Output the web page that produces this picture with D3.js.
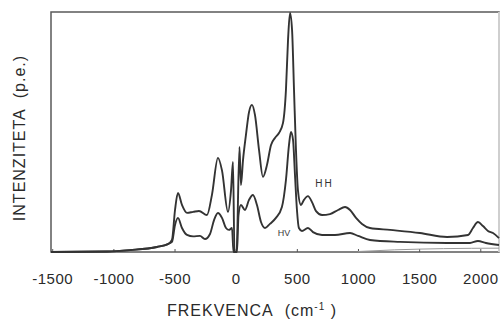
<!DOCTYPE html>
<html>
<head>
<meta charset="utf-8">
<script src="https://cdn.jsdelivr.net/npm/d3@7"></script>
<style>
  html, body { margin: 0; padding: 0; background: #fff; }
  svg { display: block; font-family: "Liberation Sans", Arial, sans-serif; }
</style>
</head>
<body>
<div id="chart"></div>
<script>
// Raman spectrum, HH and HV polarisation
const tickValues = [-1500, -1000, -500, 0, 500, 1000, 1500, 2000];

const hhShift = [-1510, -1052, -864, -644, -554, -521, -496, -472, -439, -398, -348, -300, -235, -194, -145, -112, -63, -38, -22, -10, 7,
  31, 43, 60, 84, 109, 133, 158, 191, 223, 256, 289, 321, 354, 387, 411, 428, 444, 461, 477, 493, 509, 534, 558, 591, 624, 657,
  706, 771, 837, 894, 935, 984, 1033, 1098, 1262, 1507, 1728, 1900, 1940, 1981, 2022, 2063, 2104, 2153];
const hhValue = [0, 0.2, 0.8, 2.1, 3.3, 5, 17.5, 24.6, 19.6, 16.3, 16.7, 17.1, 15.4, 23.8, 39.2, 34, 16.7, 25.8, 37.5, 0, 0,
  43.8, 27.9, 38.3, 48.8, 58.3, 61.3, 57, 42.5, 31.3, 36.3, 44.6, 47.5, 49.6, 53.8, 67.5, 88.3, 99.6, 92.5, 67.5, 42.5, 25.8, 19.6, 21.7, 23.3, 20.8, 17,
  15.4, 15.8, 17.5, 18.75, 17.5, 14.2, 11.7, 10, 9.2, 7.9, 6.25, 7.1, 10, 12.5, 10.8, 8.75, 7.9, 5.8];

const hvShift = [-1510, -1052, -864, -644, -554, -521, -496, -472, -439, -398, -348, -292, -251, -210, -177, -145, -112, -79, -55, -30, -18, 11,
  23, 43, 76, 109, 141, 174, 207, 240, 280, 329, 378, 411, 436, 452, 469, 485, 501, 517, 542, 591, 632,
  706, 812, 935, 1001, 1098, 1344, 1728, 1916, 1981, 2046, 2153];
const hvValue = [0, 0.2, 0.8, 2.1, 3.3, 4.2, 11.25, 14.2, 10, 7.1, 6.5, 6.7, 5.4, 7.5, 13.3, 16.25, 14.2, 10, 9.2, 10, 0, 0,
  15.4, 19.6, 17.5, 21.7, 23.75, 19.6, 12.5, 10, 11.7, 14.2, 18.75, 30, 44.6, 50, 46.7, 32, 17.5, 10, 8.75, 10, 8.3,
  7.1, 7.1, 7.9, 6.7, 5, 4.2, 3.75, 3.75, 4.6, 3.75, 2.9];

const baseShift = [1000, 1300, 1700, 2153];
const baseValue = [0.2, 0.9, 1.4, 1.6];

const width = 501, height = 323;
const svg = d3.select('#chart').append('svg')
  .attr('width', width)
  .attr('height', height);

const x = d3.scaleLinear().domain([-1510, 2153]).range([51, 499]);
const y = d3.scaleLinear().domain([0, 100]).range([252, 12]);

const ink = '#333';

// frame
svg.append('rect')
  .attr('x', x.range()[0]).attr('y', y.range()[1])
  .attr('width', x.range()[1] - x.range()[0])
  .attr('height', y.range()[0] - y.range()[1])
  .attr('fill', 'none')
  .attr('stroke', '#5a5a5a')
  .attr('stroke-width', 1.5);

// right edge is lighter in the scan
svg.append('line')
  .attr('x1', x.range()[1]).attr('x2', x.range()[1])
  .attr('y1', y.range()[1]).attr('y2', y.range()[0])
  .attr('stroke', '#d8d8d8').attr('stroke-width', 1.8);

const xAxis = svg.append('g')
  .attr('transform', `translate(0,${y(0)})`)
  .call(d3.axisBottom(x)
    .tickValues(tickValues)
    .tickFormat(d => String(d))
    .tickSizeInner(-3)
    .tickSizeOuter(0)
    .tickPadding(21));
xAxis.select('.domain').remove();
xAxis.selectAll('.tick line').attr('stroke', '#555');
xAxis.selectAll('text')
  .attr('fill', '#2a2a2a')
  .style('font-size', '15px')
  .style('letter-spacing', '0.5px');

const line = d3.line()
  .x(d => x(d[0]))
  .y(d => y(d[1]))
  .curve(d3.curveMonotoneX);

const series = [
  { name: 'base', xs: baseShift, ys: baseValue, w: 1, c: '#999' },
  { name: 'HV', xs: hvShift, ys: hvValue, w: 1.9, c: ink },
  { name: 'HH', xs: hhShift, ys: hhValue, w: 1.9, c: ink }
];

series.forEach(s => {
  svg.append('path')
    .datum(s.xs.map((v, i) => [v, s.ys[i]]))
    .attr('class', 'line')
    .attr('d', line)
    .attr('fill', 'none')
    .attr('stroke', s.c)
    .attr('stroke-width', s.w)
    .attr('stroke-linejoin', 'round');
});

// curve labels
svg.append('text')
  .attr('x', x(650)).attr('y', y(27))
  .attr('fill', '#333')
  .style('font-size', '10px')
  .style('letter-spacing', '2px')
  .text('HH');
svg.append('text')
  .attr('x', x(345)).attr('y', y(6.5))
  .attr('fill', '#3a3a3a')
  .style('font-size', '9px')
  .text('HV');

// axis titles
svg.append('text')
  .attr('x', 252).attr('y', 316)
  .attr('text-anchor', 'middle')
  .attr('fill', '#2a2a2a')
  .style('font-size', '16px')
  .style('letter-spacing', '1px')
  .html('FREKVENCA&#160;&#160;(cm<tspan dy="-6" font-size="10px">-1</tspan><tspan dy="6"> )</tspan>');

svg.append('text')
  .attr('transform', 'translate(25,138) rotate(-90)')
  .attr('text-anchor', 'middle')
  .attr('fill', '#2a2a2a')
  .style('font-size', '16px')
  .style('letter-spacing', '1px')
  .style('white-space', 'pre')
  .text('INTENZITETA  (p.e.)');
</script>
</body>
</html>
